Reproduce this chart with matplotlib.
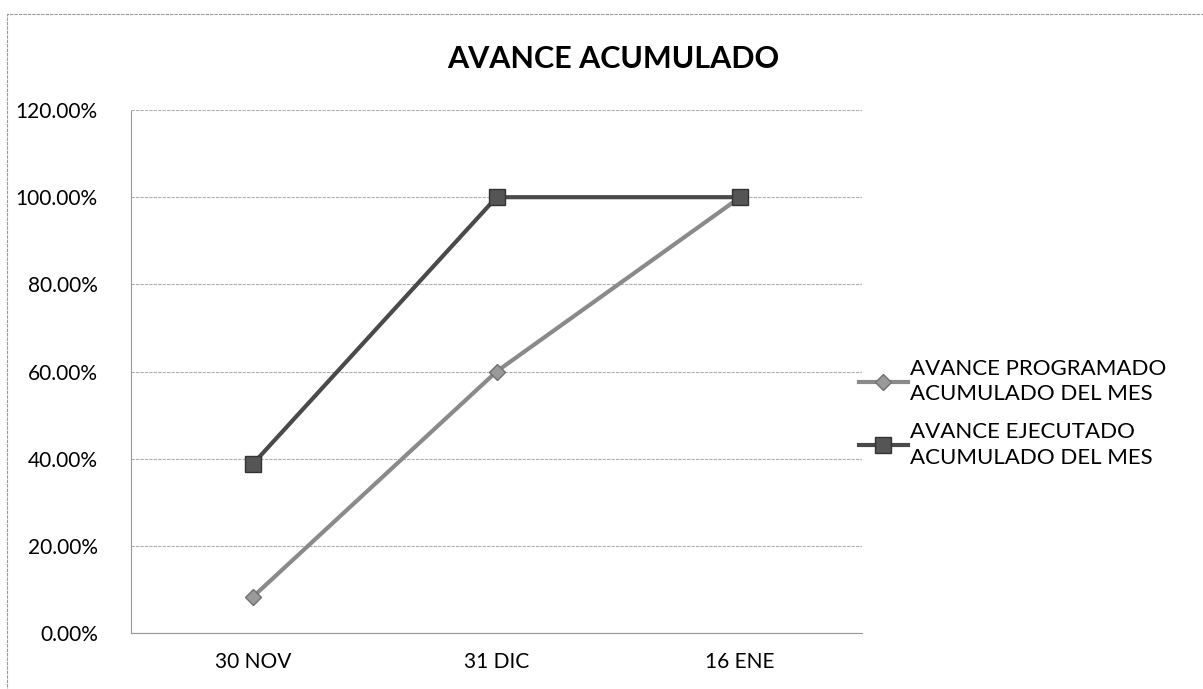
import matplotlib.pyplot as plt
from matplotlib.patches import Rectangle
from matplotlib.ticker import FuncFormatter

fechas = ['30 NOV', '31 DIC', '16 ENE']
programado = [8.3, 60.0, 100.0]
ejecutado = [38.8, 100.0, 100.0]
etiquetas = ['AVANCE PROGRAMADO\nACUMULADO DEL MES', 'AVANCE EJECUTADO\nACUMULADO DEL MES']

plt.rcParams['font.family'] = ['Lato', 'DejaVu Sans']

fig = plt.figure(figsize=(12.03, 6.89), dpi=100)
ax = fig.add_axes([0.109, 0.0813, 0.6076, 0.7590])

x = range(len(fechas))
ax.plot(x, programado, color='#8a8a8a', lw=3, marker='D', ms=8,
        markerfacecolor='#9a9a9a', markeredgecolor='#707070', label=etiquetas[0], zorder=3)
ax.plot(x, ejecutado, color='#4a4a4a', lw=3, marker='s', ms=11,
        markerfacecolor='#555555', markeredgecolor='#333333', label=etiquetas[1], zorder=3)

ax.set_xlim(-0.5, 2.5)
ax.set_ylim(0, 120)
ax.set_yticks(range(0, 121, 20))
ax.yaxis.set_major_formatter(FuncFormatter(lambda v, p: f'{v:.2f}%'))
ax.set_xticks(list(x), fechas)
ax.tick_params(axis='y', length=0, labelsize=15, pad=24)
ax.tick_params(axis='x', length=0, labelsize=15, pad=14)
ax.grid(True, axis='y', color='#b0b0b0', lw=0.8, ls=(0, (3, 1)))
for s in ['top', 'right']:
    ax.spines[s].set_visible(False)
ax.spines['left'].set_color('#999999')
ax.spines['left'].set_linestyle((0, (2, 1)))
ax.spines['bottom'].set_color('#999999')

fig.text(0.51, 0.915, 'AVANCE ACUMULADO', ha='center', va='center',
         fontsize=22, fontweight='bold')

leg = ax.legend(loc='center left', bbox_to_anchor=(0.968, 0.42), frameon=False,
                fontsize=16, handlelength=2.2, labelspacing=0.8, handletextpad=0.1)
for t in leg.get_texts():
    t.set_linespacing(1.35)

fig.add_artist(Rectangle((0.006, -0.01), 1.2, 0.99, transform=fig.transFigure,
                         fill=False, edgecolor='#999999', lw=0.8, ls=(0, (3, 1))))

fig.savefig('out.png', dpi=100)
